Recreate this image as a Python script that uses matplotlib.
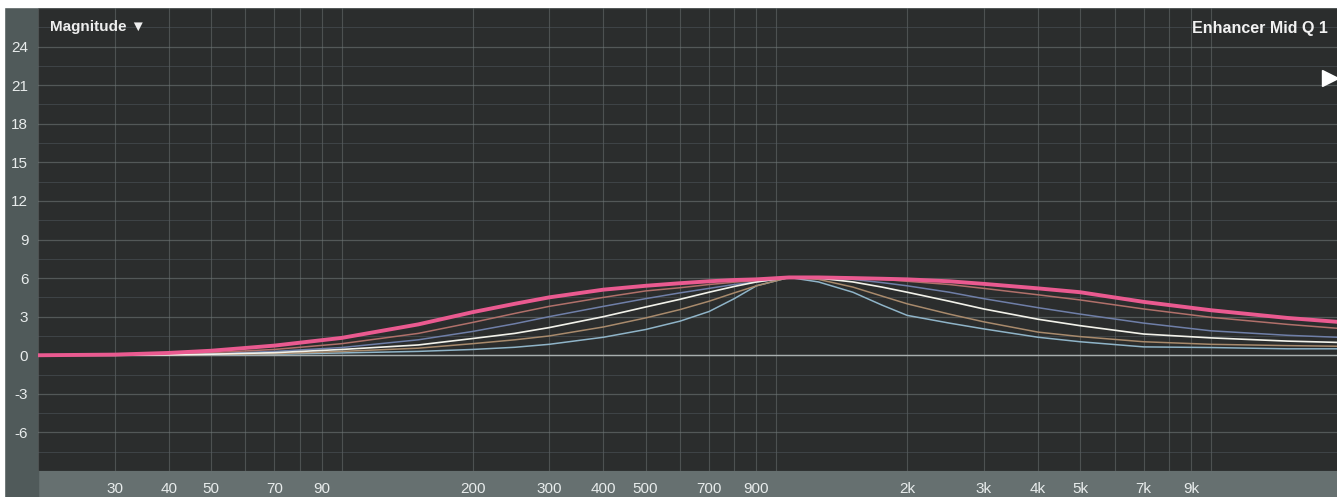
import matplotlib
matplotlib.use("Agg")
import matplotlib.pyplot as plt
from matplotlib.patches import Rectangle
from matplotlib.ticker import NullFormatter

plt.rcParams["font.family"] = ["Liberation Sans", "DejaVu Sans"]

freqs = [20, 30, 40, 50, 70, 100, 150, 200, 250, 300, 400, 500, 600, 700, 800, 900,
         1070, 1250, 1500, 1750, 2000, 2500, 3000, 4000, 5000, 7000, 10000, 15000, 19500]

# Magnitude (dB) for each Q setting, widest to narrowest
q_pink = [0, 0.05, 0.18, 0.35, 0.75, 1.35, 2.4, 3.35, 4.0, 4.5, 5.1, 5.4, 5.6, 5.75, 5.85, 5.9,
          6.05, 6.05, 6.0, 5.95, 5.9, 5.75, 5.55, 5.2, 4.9, 4.15, 3.5, 2.9, 2.6]
q_salmon = [0, 0.03, 0.1, 0.2, 0.45, 0.9, 1.7, 2.55, 3.25, 3.8, 4.5, 5.0, 5.25, 5.5, 5.68, 5.8,
            6.05, 6.05, 6.0, 5.9, 5.75, 5.5, 5.2, 4.7, 4.3, 3.6, 2.95, 2.4, 2.1]
q_blue = [0, 0.02, 0.06, 0.12, 0.3, 0.6, 1.2, 1.85, 2.45, 3.0, 3.8, 4.4, 4.85, 5.2, 5.5, 5.7,
          6.05, 6.0, 5.9, 5.65, 5.4, 4.9, 4.4, 3.7, 3.2, 2.5, 1.9, 1.55, 1.4]
q_white = [0, 0, 0.03, 0.08, 0.2, 0.45, 0.8, 1.3, 1.7, 2.15, 3.0, 3.75, 4.35, 4.9, 5.35, 5.7,
           6.05, 6.0, 5.7, 5.3, 4.9, 4.2, 3.6, 2.8, 2.3, 1.65, 1.35, 1.1, 1.0]
q_tan = [0, 0, 0.02, 0.05, 0.12, 0.3, 0.55, 0.9, 1.2, 1.5, 2.2, 2.9, 3.55, 4.2, 4.85, 5.4,
         6.05, 5.9, 5.3, 4.6, 4.0, 3.2, 2.6, 1.8, 1.45, 1.05, 0.85, 0.75, 0.7]
q_teal = [0, 0, 0, 0.03, 0.08, 0.18, 0.3, 0.45, 0.62, 0.85, 1.4, 2.0, 2.65, 3.4, 4.4, 5.4,
          6.05, 5.7, 4.9, 3.9, 3.1, 2.5, 2.05, 1.4, 1.05, 0.65, 0.6, 0.5, 0.5]

y_ticks = [-6, -3, 0, 3, 6, 9, 12, 15, 18, 21, 24]
x_ticks = [30, 40, 50, 70, 90, 200, 300, 400, 500, 700, 900,
           2000, 3000, 4000, 5000, 7000, 9000]
x_labels = ["30", "40", "50", "70", "90", "200", "300", "400", "500", "700", "900",
            "2k", "3k", "4k", "5k", "7k", "9k"]
grid_freqs = [m * d for d in (10, 100, 1000, 10000) for m in range(1, 10)]

W, H = 1337, 497
fig = plt.figure(figsize=(W / 100, H / 100), dpi=100)
fig.patch.set_facecolor("#667070")

# left label strip and white scan borders
fig.add_artist(Rectangle((0, 0), 38 / W, 1, transform=fig.transFigure,
                         color="#505a5a", zorder=-2))
fig.add_artist(Rectangle((0, 1 - 7 / H), 1, 7 / H, transform=fig.transFigure,
                         color="white", zorder=-1))
fig.add_artist(Rectangle((0, 0), 4 / W, 1, transform=fig.transFigure,
                         color="white", zorder=-1))

ax = fig.add_axes([38 / W, 26 / H, (W - 38) / W, (471 - 8) / H])
ax.set_zorder(2)
ax.set_facecolor("#2b2d2d")
ax.set_xscale("log")
ax.set_xlim(20, 19500)
ax.set_ylim(-9, 27)

for f in grid_freqs:
    ax.axvline(f, color="#6a7070", lw=0.8, alpha=0.55, zorder=1)
for y in range(-9, 28, 3):
    ax.axhline(y, color="#6e7676", lw=0.9, alpha=0.6, zorder=1)
for y in [v + 1.5 for v in range(-9, 27, 3)]:
    ax.axhline(y, color="#545c62", lw=0.7, alpha=0.5, zorder=1)
ax.axhline(0, color="#a8aeae", lw=1.0, zorder=2)

ax.plot(freqs, q_teal, color="#8fb4c8", lw=1.1, zorder=3)
ax.plot(freqs, q_tan, color="#a88a6c", lw=1.1, zorder=3)
ax.plot(freqs, q_white, color="#f2f2ea", lw=1.2, zorder=4)
ax.plot(freqs, q_blue, color="#6f7fa8", lw=1.1, zorder=3)
ax.plot(freqs, q_salmon, color="#b0706a", lw=1.1, zorder=3)
ax.plot(freqs, q_pink, color="#ea5a90", lw=2.8, zorder=5)

ax.set_xticks(x_ticks)
ax.set_xticklabels(x_labels)
ax.xaxis.set_minor_formatter(NullFormatter())
ax.set_yticks(y_ticks)
ax.set_yticklabels([str(v) for v in y_ticks])
ax.tick_params(axis="both", which="both", length=0, colors="#e8ecec", labelsize=11)
ax.tick_params(axis="x", pad=8)
ax.tick_params(axis="y", pad=7)
for s in ax.spines.values():
    s.set_visible(False)

ax.text(0.009, 0.96, "Magnitude \u25BC", transform=ax.transAxes, color="#eeeeee",
        fontsize=11, fontweight="bold", va="center", ha="left")
ax.text(0.993, 0.955, "Enhancer Mid Q 1", transform=ax.transAxes, color="#f2f2f2",
        fontsize=11.5, fontweight="bold", va="center", ha="right")
ax.plot([0.9945], [0.848], marker=">", markersize=12, color="white",
        transform=ax.transAxes, clip_on=False, zorder=6)

plt.savefig("out.png", dpi=100, facecolor=fig.get_facecolor())
